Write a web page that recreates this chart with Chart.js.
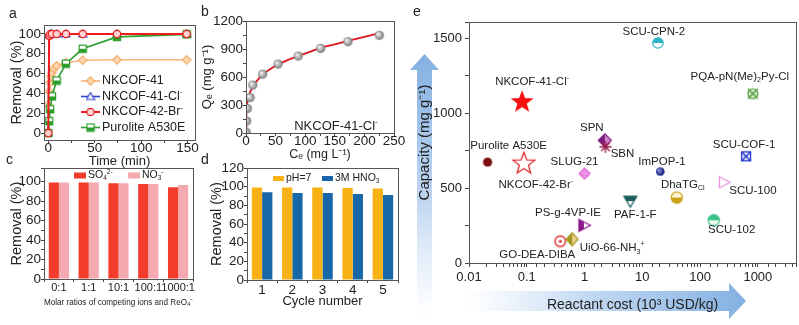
<!DOCTYPE html>
<html>
<head>
<meta charset="utf-8">
<script src="https://cdn.jsdelivr.net/npm/chart.js@4.4.1/dist/chart.umd.min.js"></script>
<style>
  html, body { margin: 0; padding: 0; background: #fff; }
  #page { position: relative; width: 799px; height: 325px; overflow: hidden; font-family: "Liberation Sans", Arial, sans-serif; }
  canvas { position: absolute; }
  .tag { position: absolute; font-size: 14px; color: #222; line-height: 16px; }
</style>
</head>
<body>
<div id="page">
  <canvas id="chartA" width="200" height="170" style="left:0;top:0"></canvas>
  <canvas id="chartB" width="205" height="170" style="left:200px;top:0"></canvas>
  <canvas id="chartC" width="200" height="165" style="left:0;top:160px"></canvas>
  <canvas id="chartD" width="205" height="165" style="left:200px;top:160px"></canvas>
  <canvas id="chartE" width="394" height="325" style="left:405px;top:0"></canvas>
  <div class="tag" style="left:9px;top:5px">a</div>
  <div class="tag" style="left:201px;top:3px">b</div>
  <div class="tag" style="left:6px;top:151px">c</div>
  <div class="tag" style="left:201px;top:151px">d</div>
  <div class="tag" style="left:413px;top:3px">e</div>
</div>
<script>
// ---------- data ----------
// a: kinetics
const timeMin = [0, 1, 2, 4, 9, 19, 37, 74, 149];
const timeMinNk41 = [0, 1, 2, 3, 4, 6, 9, 19, 37, 74, 149];
const removalNk41 = [28, 42, 51, 57, 61, 65, 68, 71, 73.5, 74, 74];
const removalNk41Cl = [0, 99, 100, 100, 100, 100, 100, 100, 100];
const removalNk42Br = [0, 98, 99.5, 100, 100, 100, 100, 100, 100];
const removalA530E = [0, 12, 24, 37, 53, 70, 85, 97, 99.5];
const kineticNames = ['NKCOF-41', 'NKCOF-41-Cl^{-}', 'NKCOF-42-Br^{-}', 'Purolite A530E'];

// b: isotherm
const ceMgL = [0.2, 1, 2.2, 6.8, 11.4, 28, 54, 88, 126, 172, 225];
const qeMgG = [10, 129, 262, 380, 513, 631, 739, 825, 907, 979, 1047];
const fitCe = [0, 0.3, 1, 2.8, 5, 8.5, 12, 17, 28, 40, 51, 70, 88, 110, 126, 150, 172, 200, 222];
const fitQe = [0, 150, 240, 350, 410, 459, 500, 548, 631, 680, 725, 780, 825, 875, 914, 950, 986, 1030, 1065];

// c: competing ions
const ratioLabels = ['0:1', '1:1', '10:1', '100:1', '1000:1'];
const removalSO4 = [99.3, 99.3, 98.3, 97.6, 94.2];
const removalNO3 = [99.3, 99.3, 98.3, 97.6, 96.6];

// d: cycles
const cycleLabels = ['1', '2', '3', '4', '5'];
const removalPH7 = [99.3, 99.3, 99.3, 98.6, 98.2];
const removalHNO3 = [94, 93.3, 93.3, 92.2, 91.1];

// e: capacity vs cost
const sorbentNames = ['Purolite A530E', 'NKCOF-41-Cl^{-}', 'NKCOF-42-Br^{-}', 'SCU-CPN-2', 'PQA-pN(Me)_{2}Py-Cl',
  'SPN', 'SBN', 'SLUG-21', 'SCU-COF-1', 'ImPOP-1', 'SCU-100', 'DhaTG_{Cl}', 'PAF-1-F', 'SCU-102',
  'PS-g-4VP-IE', 'UiO-66-NH_{3}^{+}', 'GO-DEA-DIBA'];
const reactantCost = [0.021, 0.083, 0.089, 18.6, 818, 2.24, 2.3, 1.0, 625, 20.2, 258, 39.5, 6.2, 172, 0.975, 0.61, 0.38];
const capacity = [673, 1073, 662, 1467, 1129, 818, 775, 596, 711, 611, 538, 436, 413, 285, 251, 158, 145];
const costTicks = [0.01, 0.1, 1, 10, 100, 1000];

// label placement (px from marker) and marker kinds for panel e
const labelDx = [21, 10, 12, -4, -13, -13, 17, -10, -2, 2, 29, 6, 5, 18, -16, 40, -23];
const labelDy = [-16, -20, 21, -11, -17, -12, 7, -12, -12, -10, 9, -13, 14, 10, -13, 9, 14];
const markerKinds = ['a530e', 'starFilled', 'starOpen', 'cpn2', 'pqa', 'spn', 'sbn', 'slug21', 'scucof1',
  'impop1', 'scu100', 'dhatg', 'paf1f', 'scu102', 'psg4vp', 'uio66', 'godea'];

// ---------- helpers ----------
const FONT = '"Liberation Sans", Arial, Helvetica, sans-serif';
Chart.defaults.font.family = FONT;
Chart.defaults.color = '#222';
Chart.defaults.animation = false;
Chart.defaults.plugins.legend.display = false;
Chart.defaults.plugins.tooltip.enabled = false;

function richText(ctx, str, x, y, size, align) {
  const parts = [];
  const re = /([_^])\{([^}]*)\}/g;
  let last = 0, m;
  while ((m = re.exec(str))) {
    if (m.index > last) parts.push({t: str.slice(last, m.index), k: ''});
    parts.push({t: m[2], k: m[1]});
    last = re.lastIndex;
  }
  if (last < str.length) parts.push({t: str.slice(last), k: ''});
  const fontFor = k => (k ? size * 0.62 : size) + 'px ' + FONT;
  let w = 0;
  parts.forEach(p => { ctx.font = fontFor(p.k); p.w = ctx.measureText(p.t).width; w += p.w; });
  let cx = align === 'center' ? x - w / 2 : (align === 'right' ? x - w : x);
  ctx.textAlign = 'left';
  ctx.textBaseline = 'middle';
  parts.forEach(p => {
    ctx.font = fontFor(p.k);
    const dy = p.k === '_' ? size * 0.3 : (p.k === '^' ? -size * 0.35 : 0);
    ctx.fillText(p.t, cx, y + dy);
    cx += p.w;
  });
}

function makeMarker(size, draw) {
  const c = document.createElement('canvas');
  c.width = size; c.height = size;
  const g = c.getContext('2d');
  g.translate(size / 2, size / 2);
  g.lineWidth = 1.2;
  draw(g);
  return c;
}
function circlePath(g, r) { g.beginPath(); g.arc(0, 0, r, 0, Math.PI * 2); }
function starPath(g, ro, ri) {
  g.beginPath();
  for (let i = 0; i < 10; i++) {
    const r = i % 2 ? ri : ro;
    const a = -Math.PI / 2 + i * Math.PI / 5;
    g.lineTo(r * Math.cos(a), r * Math.sin(a));
  }
  g.closePath();
}
function polyPath(g, pts) { g.beginPath(); pts.forEach(p => g.lineTo(p[0], p[1])); g.closePath(); }
function halfFill(g, pathFn, color, light, side) {
  pathFn(); g.fillStyle = light; g.fill();
  g.save(); pathFn(); g.clip();
  g.fillStyle = color;
  if (side === 'top') g.fillRect(-20, -20, 40, 20);
  if (side === 'bottom') g.fillRect(-20, 0, 40, 20);
  if (side === 'left') g.fillRect(-20, -20, 20, 40);
  g.restore();
  pathFn(); g.strokeStyle = color; g.stroke();
}
function sphere(r, c1, c2) {
  return makeMarker(2 * r + 2, g => {
    const gr = g.createRadialGradient(-r * 0.35, -r * 0.35, r * 0.1, 0, 0, r);
    gr.addColorStop(0, c1); gr.addColorStop(1, c2);
    circlePath(g, r); g.fillStyle = gr; g.fill();
  });
}

const kineticMarks = [
  makeMarker(10, g => { const p = () => polyPath(g, [[0, -4.2], [4.2, 0], [0, 4.2], [-4.2, 0]]); p(); g.fillStyle = '#fcd8b2'; g.fill(); g.strokeStyle = '#f3a964'; g.stroke(); }),
  makeMarker(10, g => { const p = () => polyPath(g, [[0, -4], [4, 3], [-4, 3]]); p(); g.fillStyle = '#fff'; g.fill(); g.strokeStyle = '#3344cc'; g.stroke(); }),
  makeMarker(10, g => { circlePath(g, 3.7); g.fillStyle = '#ffd4d4'; g.fill(); g.strokeStyle = '#ee1c1c'; g.stroke(); }),
  makeMarker(10, g => halfFill(g, () => { g.beginPath(); g.rect(-3.6, -3.6, 7.2, 7.2); }, '#2c9e2c', '#ffffff', 'bottom'))
];
const kineticColors = ['#f6b47a', '#3344cc', '#f01c1c', '#2c9e2c'];

const isoMark = sphere(4.6, '#f4f4f4', '#777777');

const MARKS = {
  a530e: makeMarker(12, g => { circlePath(g, 4.6); g.fillStyle = '#7b0d0d'; g.fill(); }),
  starFilled: makeMarker(28, g => { starPath(g, 12, 5); g.fillStyle = '#f50f0f'; g.fill(); }),
  starOpen: makeMarker(28, g => { starPath(g, 11.5, 4.8); g.strokeStyle = '#e0282c'; g.lineWidth = 1.3; g.stroke(); }),
  cpn2: makeMarker(14, g => halfFill(g, () => circlePath(g, 5.2), '#2fb3c8', '#ffffff', 'top')),
  pqa: makeMarker(14, g => {
    circlePath(g, 5); g.fillStyle = '#cfe6c4'; g.fill(); g.strokeStyle = '#4f9a3a'; g.stroke();
    g.beginPath(); g.moveTo(-5, -5); g.lineTo(5, 5); g.moveTo(5, -5); g.lineTo(-5, 5); g.stroke();
  }),
  spn: makeMarker(16, g => halfFill(g, () => polyPath(g, [[0, -6.5], [6.5, 0], [0, 6.5], [-6.5, 0]]), '#7a1a7a', '#d48ad4', 'left')),
  sbn: makeMarker(16, g => {
    g.strokeStyle = '#9a1e4a'; g.lineWidth = 1.4; g.beginPath();
    for (let i = 0; i < 4; i++) { const a = i * Math.PI / 4; g.moveTo(-6 * Math.cos(a), -6 * Math.sin(a)); g.lineTo(6 * Math.cos(a), 6 * Math.sin(a)); }
    g.stroke();
  }),
  slug21: makeMarker(14, g => {
    const p = () => polyPath(g, [[0, -5.5], [5.5, 0], [0, 5.5], [-5.5, 0]]);
    p(); g.fillStyle = '#f7d2f4'; g.fill();
    g.save(); p(); g.clip(); g.strokeStyle = '#e060d8'; g.lineWidth = 0.8; g.beginPath();
    for (let k = -6; k <= 6; k += 2.5) { g.moveTo(k, -6); g.lineTo(k, 6); g.moveTo(-6, k); g.lineTo(6, k); }
    g.stroke(); g.restore(); p(); g.strokeStyle = '#e060d8'; g.stroke();
  }),
  scucof1: makeMarker(12, g => {
    g.fillStyle = '#dfe3ff'; g.fillRect(-4.5, -4.5, 9, 9); g.strokeStyle = '#1a2fc8'; g.strokeRect(-4.5, -4.5, 9, 9);
    g.beginPath(); g.moveTo(-4.5, -4.5); g.lineTo(4.5, 4.5); g.moveTo(4.5, -4.5); g.lineTo(-4.5, 4.5); g.stroke();
  }),
  impop1: sphere(4.3, '#8a93e0', '#0d1670'),
  scu100: makeMarker(14, g => { polyPath(g, [[-4.5, -5.5], [6, 0], [-4.5, 5.5]]); g.fillStyle = '#fff'; g.fill(); g.strokeStyle = '#e892de'; g.lineWidth = 1.3; g.stroke(); }),
  dhatg: makeMarker(14, g => halfFill(g, () => circlePath(g, 5.6), '#c9a21a', '#fff6d8', 'bottom')),
  paf1f: makeMarker(16, g => {
    const p = () => polyPath(g, [[-6.5, -5], [6.5, -5], [0, 6]]);
    halfFill(g, p, '#1e5d5d', '#ffffff', 'top');
  }),
  scu102: makeMarker(14, g => halfFill(g, () => circlePath(g, 5.6), '#3cc48a', '#eafaf1', 'top')),
  psg4vp: makeMarker(16, g => halfFill(g, () => polyPath(g, [[-5, -6], [6.5, 0], [-5, 6]]), '#8c1a8c', '#ffffff', 'left')),
  uio66: makeMarker(16, g => {
    const p = () => polyPath(g, [[0, -6.5], [6, 0], [0, 6.5], [-6, 0]]);
    p(); g.fillStyle = '#ecd08a'; g.fill();
    g.save(); p(); g.clip(); g.fillStyle = '#9c9a1c'; g.fillRect(-10, -10, 10, 20); g.restore();
    p(); g.strokeStyle = '#a89a2a'; g.stroke();
  }),
  godea: makeMarker(14, g => {
    circlePath(g, 5.3); g.fillStyle = '#fff'; g.fill(); g.strokeStyle = '#e02626'; g.lineWidth = 1.4; g.stroke();
    circlePath(g, 1.6); g.fillStyle = '#e02626'; g.fill();
  })
};

// ---------- plugins ----------
const framePlugin = {
  id: 'frame',
  afterDraw(chart) {
    const {ctx, chartArea: a} = chart;
    ctx.save();
    ctx.strokeStyle = '#555';
    ctx.lineWidth = 1;
    ctx.strokeRect(Math.round(a.left) + 0.5, Math.round(a.top) + 0.5, Math.round(a.right - a.left), Math.round(a.bottom - a.top));
    ctx.restore();
  }
};

const lineLegend = {
  id: 'lineLegend',
  afterDraw(chart, args, opts) {
    const ctx = chart.ctx;
    chart.data.datasets.forEach((ds, i) => {
      const y = opts.y + i * opts.gap;
      ctx.save();
      ctx.strokeStyle = ds.borderColor;
      ctx.lineWidth = ds.borderWidth;
      ctx.beginPath(); ctx.moveTo(opts.x, y); ctx.lineTo(opts.x + opts.len, y); ctx.stroke();
      const mk = ds.pointStyle;
      ctx.drawImage(mk, opts.x + opts.len / 2 - mk.width / 2, y - mk.height / 2);
      ctx.fillStyle = '#222';
      richText(ctx, ds.label, opts.x + opts.len + 2, y, opts.size, 'left');
      ctx.restore();
    });
  }
};

const boxLegend = {
  id: 'boxLegend',
  afterDraw(chart, args, opts) {
    const ctx = chart.ctx;
    chart.data.datasets.forEach((ds, i) => {
      const x = opts.xs[i];
      ctx.save();
      ctx.fillStyle = ds.backgroundColor;
      ctx.fillRect(x, opts.y - opts.h / 2, opts.w, opts.h);
      ctx.fillStyle = '#222';
      richText(ctx, ds.label, x + opts.w + 2, opts.y, opts.size, 'left');
      ctx.restore();
    });
  }
};

const noteText = {
  id: 'noteText',
  afterDraw(chart, args, opts) {
    const ctx = chart.ctx;
    ctx.save(); ctx.fillStyle = '#222';
    richText(ctx, opts.text, opts.x, opts.y, opts.size, 'center');
    ctx.restore();
  }
};

const pointNames = {
  id: 'pointNames',
  afterDatasetsDraw(chart) {
    const ctx = chart.ctx;
    const xs = chart.scales.x, ys = chart.scales.y;
    ctx.save(); ctx.fillStyle = '#222';
    sorbentNames.forEach((name, i) => {
      const px = xs.getPixelForValue(reactantCost[i]) + labelDx[i];
      const py = ys.getPixelForValue(capacity[i]) + labelDy[i];
      richText(ctx, name, px, py, 11.5, 'center');
    });
    ctx.restore();
  }
};

const arrowPlugin = {
  id: 'arrows',
  beforeDraw(chart) {
    const ctx = chart.ctx;
    ctx.save();
    // vertical arrow (capacity)
    let gr = ctx.createLinearGradient(0, 54, 0, 318);
    gr.addColorStop(0, 'rgba(130,175,225,1)');
    gr.addColorStop(0.55, 'rgba(170,200,235,0.75)');
    gr.addColorStop(1, 'rgba(200,220,245,0)');
    ctx.fillStyle = gr;
    ctx.beginPath();
    ctx.moveTo(19.5, 54); ctx.lineTo(34, 70); ctx.lineTo(27, 70); ctx.lineTo(27, 318);
    ctx.lineTo(12, 318); ctx.lineTo(12, 70); ctx.lineTo(5, 70); ctx.closePath();
    ctx.fill();
    // horizontal arrow (cost)
    gr = ctx.createLinearGradient(60, 0, 342, 0);
    gr.addColorStop(0, 'rgba(200,220,245,0)');
    gr.addColorStop(0.45, 'rgba(175,205,238,0.8)');
    gr.addColorStop(1, 'rgba(130,175,225,1)');
    ctx.fillStyle = gr;
    ctx.beginPath();
    ctx.moveTo(60, 291); ctx.lineTo(324, 291); ctx.lineTo(324, 283); ctx.lineTo(341, 301);
    ctx.lineTo(324, 319); ctx.lineTo(324, 311); ctx.lineTo(60, 311); ctx.closePath();
    ctx.fill();
    ctx.restore();
  }
};

function tickGrid(len) {
  return { drawOnChartArea: false, drawTicks: true, tickLength: len, color: '#444', tickColor: '#444' };
}
function everyOther(step, maxLabel) {
  return v => (Math.abs(v % step) < 1e-9 && v >= 0 && v <= maxLabel) ? String(v) : '';
}

// ---------- a ----------
const pts = (xs, ys) => xs.map((x, i) => ({x: x, y: ys[i]}));
new Chart(document.getElementById('chartA'), {
  type: 'scatter',
  data: {
    datasets: [
      {label: kineticNames[0], data: pts(timeMinNk41, removalNk41), order: 3},
      {label: kineticNames[1], data: pts(timeMin, removalNk41Cl), order: 2},
      {label: kineticNames[2], data: pts(timeMin, removalNk42Br), order: 0},
      {label: kineticNames[3], data: pts(timeMin, removalA530E), order: 1}
    ].map((ds, i) => Object.assign(ds, {
      showLine: true, borderColor: kineticColors[i], borderWidth: i === 2 ? 2 : 1.6,
      pointStyle: kineticMarks[i], backgroundColor: kineticColors[i]
    }))
  },
  options: {
    responsive: false,
    layout: {padding: {top: 25, right: 5, left: 0, bottom: 0}, autoPadding: false},
    scales: {
      x: {
        type: 'linear', min: -4.6, max: 158,
        afterFit: s => { s.height = 30; },
        border: {display: false}, grid: tickGrid(3),
        ticks: {stepSize: 25, includeBounds: false, autoSkip: false, maxRotation: 0, padding: -3,
          font: {size: 13.5}, callback: everyOther(50, 150)},
        title: {display: true, text: 'Time (min)', font: {size: 13}, padding: {top: 0, bottom: 1}}
      },
      y: {
        min: -7, max: 109,
        afterFit: s => { s.width = 44; },
        border: {display: false}, grid: tickGrid(3),
        ticks: {stepSize: 10, includeBounds: false, autoSkip: false, padding: 0,
          font: {size: 13.5}, callback: everyOther(20, 100)},
        title: {display: true, text: 'Removal (%)', font: {size: 14.5}, padding: {top: 8, bottom: 0}}
      }
    },
    plugins: {lineLegend: {x: 81, y: 81, gap: 15.5, len: 19, size: 12.5}}
  },
  plugins: [framePlugin, lineLegend]
});

// ---------- b ----------
new Chart(document.getElementById('chartB'), {
  type: 'scatter',
  data: {
    datasets: [
      {data: pts(ceMgL, qeMgG), pointStyle: isoMark, order: 0},
      {data: pts(fitCe, fitQe), showLine: true, pointRadius: 0, borderColor: '#e0141e', borderWidth: 1.8, order: 1}
    ]
  },
  options: {
    responsive: false,
    layout: {padding: {top: 21, right: 11, left: 0, bottom: 0}, autoPadding: false},
    scales: {
      x: {
        type: 'linear', min: 0, max: 250,
        afterFit: s => { s.height = 37; },
        border: {display: false}, grid: tickGrid(3),
        ticks: {stepSize: 25, autoSkip: false, maxRotation: 0, padding: -3, font: {size: 13.5}, callback: everyOther(50, 250)},
        title: {display: true, text: 'Cₑ (mg L⁻¹)', font: {size: 12.5}, padding: {top: 0, bottom: 7.5}}
      },
      y: {
        min: 0, max: 1200,
        afterFit: s => { s.width = 46; },
        border: {display: false}, grid: tickGrid(3),
        ticks: {stepSize: 150, autoSkip: false, padding: 0, font: {size: 13.5}, callback: everyOther(300, 1200)},
        title: {display: true, text: 'Qₑ (mg g⁻¹)', font: {size: 13}, padding: {top: 0, bottom: 0}}
      }
    },
    plugins: {noteText: {text: 'NKCOF-41-Cl^{-}', x: 136, y: 126, size: 13}}
  },
  plugins: [framePlugin, noteText]
});

// ---------- c ----------
new Chart(document.getElementById('chartC'), {
  type: 'bar',
  data: {
    labels: ratioLabels,
    datasets: [
      {label: 'SO_{4}^{2-}', data: removalSO4, backgroundColor: '#f23c2c'},
      {label: 'NO_{3}^{-}', data: removalNO3, backgroundColor: '#f5a9b0'}
    ]
  },
  options: {
    responsive: false,
    layout: {padding: {top: 8, right: 7, left: 0, bottom: 0}, autoPadding: false},
    datasets: {bar: {categoryPercentage: 0.68, barPercentage: 1.0}},
    scales: {
      x: {
        afterFit: s => { s.height = 46; },
        border: {display: false}, grid: tickGrid(3),
        ticks: {autoSkip: false, maxRotation: 0, padding: -1, font: {size: 11}},
        title: {display: true, text: 'Molar ratios of competing ions and ReO₄⁻', font: {size: 9.3}, padding: {top: 0, bottom: 17}}
      },
      y: {
        min: 0, max: 114,
        afterFit: s => { s.width = 44; },
        border: {display: false}, grid: tickGrid(3),
        ticks: {stepSize: 10, autoSkip: false, padding: 0, font: {size: 13.5}, callback: everyOther(20, 100)},
        title: {display: true, text: 'Removal (%)', font: {size: 14.5}, padding: {top: 8, bottom: 0}}
      }
    },
    plugins: {boxLegend: {xs: [74, 128], y: 15.5, w: 12, h: 6, size: 10.5}}
  },
  plugins: [framePlugin, boxLegend]
});

// ---------- d ----------
new Chart(document.getElementById('chartD'), {
  type: 'bar',
  data: {
    labels: cycleLabels,
    datasets: [
      {label: 'pH=7', data: removalPH7, backgroundColor: '#f8b216'},
      {label: '3M HNO_{3}', data: removalHNO3, backgroundColor: '#1767a9'}
    ]
  },
  options: {
    responsive: false,
    layout: {padding: {top: 7, right: 7, left: 0, bottom: 0}, autoPadding: false},
    datasets: {bar: {categoryPercentage: 0.68, barPercentage: 1.0}},
    scales: {
      x: {
        afterFit: s => { s.height = 45; },
        border: {display: false}, grid: tickGrid(3),
        ticks: {autoSkip: false, maxRotation: 0, padding: -1, font: {size: 13.5}},
        title: {display: true, text: 'Cycle number', font: {size: 13}, padding: {top: 0, bottom: 15.5}}
      },
      y: {
        min: 0, max: 120,
        afterFit: s => { s.width = 47; },
        border: {display: false}, grid: tickGrid(3),
        ticks: {stepSize: 10, autoSkip: false, padding: 0, font: {size: 13.5}, callback: everyOther(20, 120)},
        title: {display: true, text: 'Removal (%)', font: {size: 14.5}, padding: {top: 8, bottom: 0}}
      }
    },
    plugins: {boxLegend: {xs: [73, 122], y: 18.5, w: 11, h: 5, size: 10.5}}
  },
  plugins: [framePlugin, boxLegend]
});

// ---------- e ----------
new Chart(document.getElementById('chartE'), {
  type: 'scatter',
  data: {
    datasets: [{
      data: pts(reactantCost, capacity),
      pointStyle: markerKinds.map(k => MARKS[k])
    }]
  },
  options: {
    responsive: false,
    layout: {padding: {top: 22, right: 2, left: 0, bottom: 0}, autoPadding: false},
    scales: {
      x: {
        type: 'logarithmic', min: 0.01, max: 4570,
        afterFit: s => { s.height = 62; },
        border: {display: false}, grid: tickGrid(4),
        ticks: {autoSkip: false, maxRotation: 0, padding: 3, font: {size: 13},
          callback: v => {
            const k = costTicks.find(t => Math.abs(v - t) / t < 1e-6);
            return k === undefined ? '' : String(k);
          }},
        title: {display: true, text: 'Reactant cost (10³ USD/kg)', font: {size: 14}, padding: {top: 0, bottom: 11.6}}
      },
      y: {
        min: 0, max: 1607,
        afterFit: s => { s.width = 64; },
        border: {display: false}, grid: tickGrid(4),
        ticks: {stepSize: 250, autoSkip: false, padding: 3, font: {size: 13}, callback: everyOther(500, 1500)},
        title: {display: true, text: 'Capacity (mg g⁻¹)', font: {size: 15}, padding: {top: 11, bottom: 0}}
      }
    }
  },
  plugins: [arrowPlugin, framePlugin, pointNames]
});
</script>
</body>
</html>
